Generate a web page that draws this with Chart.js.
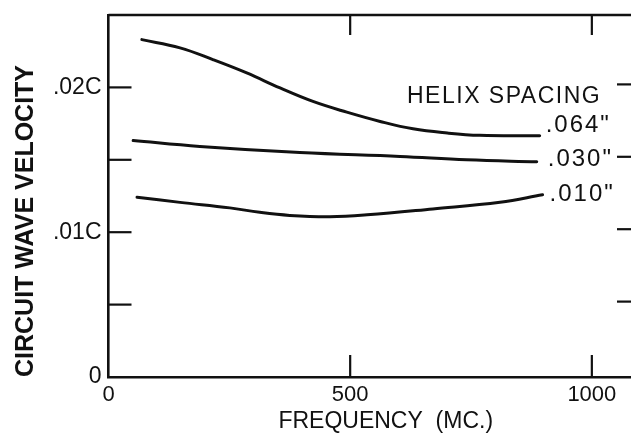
<!DOCTYPE html>
<html><head><meta charset="utf-8">
<script src="https://cdn.jsdelivr.net/npm/chart.js@4/dist/chart.umd.min.js"></script>
<style>html,body{margin:0;padding:0;background:#fff;}#wrap{width:631px;height:435px;}</style>
</head><body><div id="wrap"><canvas id="c" width="631" height="435"></canvas></div>
<script>
// Data (frequency in MC, velocity as fraction of c)
const seriesNames = ['.064"', '.030"', '.010"'];
const freq064 = [69, 148, 216, 286, 355, 423, 493, 562, 630, 701, 768, 892];
const vel064  = [0.02330, 0.02273, 0.02192, 0.02100, 0.01996, 0.01903, 0.01829, 0.01765, 0.01714, 0.01685, 0.01669, 0.01666];
const freq030 = [51, 189, 396, 603, 741, 886];
const vel030  = [0.01633, 0.01592, 0.01550, 0.01523, 0.01500, 0.01486];
const freq010 = [59, 148, 251, 313, 375, 458, 535, 671, 810, 898];
const vel010  = [0.01242, 0.01206, 0.01168, 0.01137, 0.01116, 0.01107, 0.01120, 0.01161, 0.01207, 0.01258];
const xTicks = [0, 500, 1000];
const yTickLabels = {0: '0', 0.01: '.01C', 0.02: '.02C'};
const legendTitle = 'HELIX SPACING';
const xTitle = '     FREQUENCY  (MC.)';
const yTitle = 'CIRCUIT WAVE VELOCITY';

const FONT = '"Liberation Sans", Arial, sans-serif';
const toPts = (xs, ys) => xs.map((x, i) => ({x, y: ys[i]}));
const ds = (xs, ys, name) => ({label: name, data: toPts(xs, ys), borderColor: '#111', borderWidth: 3,
  pointRadius: 0, fill: false, tension: 0.4, borderCapStyle: 'round', borderJoinStyle: 'round'});

const framePlugin = {
  id: 'frame',
  afterDatasetsDraw(chart) {
    const {ctx, chartArea: a, scales: {x, y}} = chart;
    ctx.save();
    ctx.strokeStyle = '#111';
    ctx.lineWidth = 2.6;
    // top border
    ctx.beginPath(); ctx.moveTo(a.left, a.top); ctx.lineTo(a.right, a.top); ctx.stroke();
    ctx.lineWidth = 2.2;
    // inward ticks on x (bottom and top)
    [500, 1000].forEach(v => {
      const px = x.getPixelForValue(v);
      ctx.beginPath(); ctx.moveTo(px, a.bottom); ctx.lineTo(px, a.bottom - 22); ctx.stroke();
      ctx.beginPath(); ctx.moveTo(px, a.top); ctx.lineTo(px, a.top + 20); ctx.stroke();
    });
    // inward ticks on y (left and right)
    [0.005, 0.01, 0.015, 0.02].forEach(v => {
      const py = y.getPixelForValue(v);
      ctx.beginPath(); ctx.moveTo(a.left, py); ctx.lineTo(a.left + 23, py); ctx.stroke();
      ctx.beginPath(); ctx.moveTo(a.right, py - 3); ctx.lineTo(a.right - 14, py - 3); ctx.stroke();
    });
    // annotations
    ctx.fillStyle = '#111';
    ctx.textBaseline = 'middle';
    ctx.textAlign = 'left';
    ctx.font = '23px ' + FONT;
    ctx.letterSpacing = '1.5px';
    ctx.fillText(legendTitle, 407, 97);
    ctx.font = '24px ' + FONT;
    ctx.letterSpacing = '2px';
    const sets = [[freq064, vel064, 6, -10], [freq030, vel030, 11, -2], [freq010, vel010, 7, 0]];
    sets.forEach((s, i) => {
      const lx = x.getPixelForValue(s[0][s[0].length - 1]) + s[2];
      const ly = y.getPixelForValue(s[1][s[1].length - 1]) + s[3];
      ctx.fillText(seriesNames[i], lx, ly);
    });
    ctx.restore();
  }
};

new Chart(document.getElementById('c'), {
  type: 'line',
  data: {datasets: [ds(freq064, vel064, seriesNames[0]), ds(freq030, vel030, seriesNames[1]), ds(freq010, vel010, seriesNames[2])]},
  options: {
    responsive: false, animation: false,
    layout: {padding: {top: 15, right: 0, left: 0, bottom: 0}},
    plugins: {legend: {display: false}, tooltip: {enabled: false}},
    scales: {
      x: {type: 'linear', min: 0, max: 1081,
        afterFit: s => { s.height = 58; s.paddingLeft = 0; s.paddingRight = 0; },
        afterBuildTicks: s => { s.ticks = xTicks.map(v => ({value: v})); },
        grid: {display: false, drawTicks: false},
        border: {display: true, color: '#111', width: 2.6},
        ticks: {color: '#111', font: {family: FONT, size: 22}, padding: 5, maxRotation: 0,
          callback: v => String(v)},
        title: {display: true, text: xTitle, color: '#111', font: {family: FONT, size: 23}, padding: {top: 0, bottom: 0}}
      },
      y: {type: 'linear', min: 0, max: 0.025,
        afterFit: s => { s.width = 108.5; s.paddingTop = 0; s.paddingBottom = 0; },
        afterBuildTicks: s => { s.ticks = [0, 0.01, 0.02].map(v => ({value: v})); },
        grid: {display: false, drawTicks: false},
        border: {display: true, color: '#111', width: 2.6},
        ticks: {color: '#111', font: {family: FONT, size: 23}, padding: 7,
          callback: v => yTickLabels[Math.round(v * 1000) / 1000] || ''},
        title: {display: true, text: yTitle, align: 'start', color: '#111', font: {family: FONT, size: 25, weight: 'bold'}, padding: {top: 11, bottom: 0}}
      }
    }
  },
  plugins: [framePlugin]
});
</script></body></html>
